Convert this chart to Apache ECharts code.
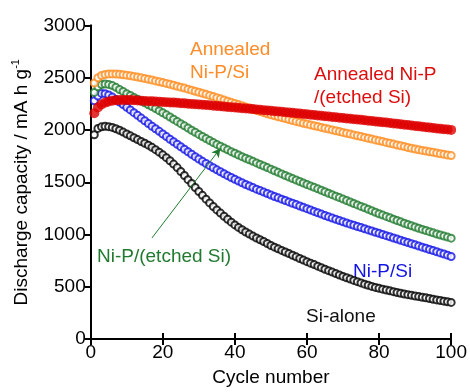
<!DOCTYPE html>
<html>
<head>
<meta charset="utf-8">
<script src="https://cdn.jsdelivr.net/npm/echarts@6/dist/echarts.min.js"></script>
<style>
  html, body { margin: 0; padding: 0; background: #fff; }
  #chart { width: 470px; height: 392px; }
</style>
</head>
<body>
<div id="chart"></div>
<script>
// discharge capacity (mA h g-1), cycles 1..100
var siAlone = [
  1955, 2015, 2030, 2035, 2032, 2025, 2012, 1998, 1980, 1962,
  1944, 1926, 1908, 1890, 1873, 1855, 1834, 1812, 1788, 1762,
  1735, 1706, 1674, 1640, 1603, 1565, 1525, 1488, 1450, 1412,
  1375, 1338, 1302, 1268, 1235, 1205, 1175, 1146, 1118, 1092,
  1068, 1045, 1024, 1004, 985, 967, 950, 933, 914, 895,
  879, 863, 848, 832, 817, 801, 786, 770, 755, 740,
  726, 712, 697, 683, 668, 654, 640, 626, 612, 599,
  586, 573, 561, 549, 537, 525, 514, 503, 494, 485,
  477, 469, 461, 453, 445, 438, 431, 424, 418, 412,
  406, 400, 394, 388, 380, 374, 368, 362, 356, 350
];
var niPSi = [
  2280, 2325, 2350, 2348, 2335, 2315, 2292, 2268, 2243, 2218,
  2192, 2166, 2140, 2114, 2088, 2062, 2036, 2012, 1987, 1962,
  1937, 1912, 1888, 1864, 1840, 1816, 1792, 1768, 1745, 1722,
  1700, 1679, 1659, 1639, 1619, 1600, 1581, 1563, 1545, 1528,
  1511, 1495, 1479, 1464, 1449, 1434, 1420, 1406, 1392, 1378,
  1364, 1351, 1338, 1325, 1312, 1299, 1286, 1273, 1260, 1247,
  1234, 1221, 1208, 1195, 1182, 1169, 1157, 1145, 1133, 1121,
  1110, 1099, 1088, 1077, 1066, 1055, 1044, 1033, 1022, 1011,
  1000, 989, 978, 967, 956, 945, 934, 923, 912, 901,
  890, 879, 868, 857, 846, 835, 824, 813, 802, 790
];
var niPEtched = [
  2360, 2415, 2435, 2440, 2436, 2425, 2408, 2388, 2368, 2348,
  2330, 2312, 2295, 2278, 2260, 2242, 2224, 2205, 2185, 2165,
  2145, 2124, 2103, 2082, 2061, 2040, 2019, 1998, 1978, 1958,
  1938, 1918, 1899, 1880, 1862, 1844, 1827, 1810, 1793, 1777,
  1761, 1745, 1730, 1715, 1700, 1685, 1670, 1655, 1640, 1625,
  1610, 1595, 1580, 1565, 1550, 1535, 1521, 1507, 1493, 1479,
  1465, 1451, 1437, 1423, 1409, 1395, 1381, 1367, 1353, 1339,
  1325, 1311, 1297, 1283, 1269, 1255, 1241, 1227, 1213, 1199,
  1186, 1173, 1160, 1147, 1134, 1121, 1108, 1096, 1084, 1072,
  1060, 1049, 1038, 1027, 1016, 1005, 995, 985, 975, 965
];
var annealedNiPSi = [
  2450, 2500, 2522, 2532, 2536, 2537, 2536, 2533, 2529, 2525,
  2519, 2513, 2506, 2499, 2492, 2485, 2478, 2470, 2462, 2454,
  2446, 2437, 2428, 2419, 2410, 2401, 2391, 2381, 2371, 2361,
  2351, 2341, 2331, 2320, 2309, 2298, 2287, 2276, 2265, 2254,
  2243, 2232, 2221, 2210, 2199, 2188, 2177, 2166, 2156, 2146,
  2136, 2127, 2118, 2109, 2100, 2091, 2082, 2073, 2065, 2057,
  2049, 2041, 2033, 2025, 2017, 2009, 2001, 1993, 1985, 1977,
  1969, 1961, 1953, 1945, 1937, 1929, 1921, 1913, 1905, 1897,
  1889, 1881, 1873, 1865, 1857, 1849, 1841, 1833, 1825, 1817,
  1811, 1805, 1799, 1792, 1786, 1780, 1773, 1767, 1761, 1755
];
var annealedNiPEtched = [
  2160, 2215, 2245, 2262, 2273, 2280, 2284, 2286, 2287, 2287,
  2286, 2284, 2282, 2280, 2278, 2276, 2274, 2272, 2270, 2268,
  2266, 2264, 2262, 2260, 2257, 2255, 2252, 2250, 2247, 2245,
  2242, 2239, 2236, 2233, 2230, 2227, 2224, 2221, 2218, 2215,
  2212, 2209, 2206, 2203, 2200, 2197, 2193, 2190, 2187, 2184,
  2180, 2177, 2174, 2170, 2167, 2164, 2160, 2157, 2153, 2150,
  2146, 2143, 2139, 2136, 2132, 2129, 2125, 2122, 2118, 2115,
  2111, 2108, 2104, 2100, 2097, 2093, 2089, 2086, 2082, 2078,
  2074, 2071, 2067, 2063, 2059, 2055, 2051, 2047, 2043, 2039,
  2035, 2031, 2027, 2023, 2019, 2015, 2011, 2007, 2004, 2001
];
// arrow pointing at the Ni-P/(etched Si) curve, [cycle, capacity]
var arrowFrom = [17, 967];
var arrowTo = [36, 1826];

var font = "'Liberation Sans', Arial, sans-serif";

function pairs(arr) {
  return arr.map(function (v, i) { return [i + 1, v]; });
}

function hollow(name, data, color) {
  return {
    name: name,
    type: 'scatter',
    data: pairs(data),
    symbol: 'emptyCircle',
    symbolSize: 7,
    itemStyle: { color: color, borderColor: color, borderWidth: 0.8 },
    silent: true
  };
}

var chart = echarts.init(document.getElementById('chart'));

var greenSeries = hollow('Ni-P/(etched Si)', niPEtched, '#217a30');
greenSeries.markLine = {
  silent: true,
  symbol: ['none', 'arrow'],
  symbolSize: [7, 9],
  label: { show: false },
  lineStyle: { color: '#217a30', width: 1, type: 'solid' },
  data: [[{ coord: arrowFrom }, { coord: arrowTo }]]
};

chart.setOption({
  animation: false,
  backgroundColor: '#fff',
  textStyle: { fontFamily: font },
  grid: { left: 90.7, right: 18.3, top: 25.5, bottom: 46.5 },
  xAxis: [
    {
      type: 'value', min: 0, max: 100, interval: 20,
      name: 'Cycle number', nameLocation: 'middle', nameGap: 29,
      nameTextStyle: { fontSize: 19, color: '#000', fontFamily: font },
      axisLine: { lineStyle: { color: '#000', width: 2 } },
      axisTick: { inside: true, length: 6, lineStyle: { color: '#000', width: 2 } },
      axisLabel: { fontSize: 19, color: '#000', margin: 4, fontFamily: font },
      splitLine: { show: false }
    },
    {
      type: 'value', position: 'top', min: 0, max: 100, interval: 20,
      axisLine: { lineStyle: { color: '#000', width: 2 } },
      axisTick: { inside: true, length: 6, lineStyle: { color: '#000', width: 2 } },
      axisLabel: { show: false },
      splitLine: { show: false }
    }
  ],
  yAxis: [
    {
      type: 'value', min: 0, max: 3000, interval: 500,
      name: 'Discharge capacity / mA h g{sup|-1}',
      nameLocation: 'middle', nameGap: 57, nameRotate: 90,
      nameTextStyle: {
        fontSize: 19, color: '#000', fontFamily: font, lineHeight: 22,
        rich: { sup: { fontSize: 11, color: '#000', fontFamily: font, verticalAlign: 'top', lineHeight: 12 } }
      },
      axisLine: { lineStyle: { color: '#000', width: 2 } },
      axisTick: { inside: false, length: 6, lineStyle: { color: '#000', width: 2 } },
      axisLabel: {
        fontSize: 19, color: '#000', margin: 5, fontFamily: font,
        formatter: function (v) { return String(v); }
      },
      splitLine: { show: false }
    },
    {
      type: 'value', position: 'right', min: 0, max: 3000, interval: 500,
      axisLine: { lineStyle: { color: '#000', width: 2 } },
      axisTick: { inside: true, length: 6, lineStyle: { color: '#000', width: 2 } },
      axisLabel: { show: false },
      splitLine: { show: false }
    }
  ],
  series: [
    hollow('Si-alone', siAlone, '#000000'),
    hollow('Ni-P/Si', niPSi, '#1414e6'),
    greenSeries,
    hollow('Annealed Ni-P/Si', annealedNiPSi, '#ff8c1e'),
    {
      name: 'Annealed Ni-P/(etched Si)',
      type: 'scatter',
      data: pairs(annealedNiPEtched),
      symbol: 'circle',
      symbolSize: 10,
      itemStyle: { color: '#dd0000' },
      silent: true
    }
  ],
  graphic: [
    { type: 'text', x: 190, y: 38.8, style: { text: 'Annealed\nNi-P/Si', fill: '#ff8c28', fontSize: 19, fontFamily: font, lineHeight: 22.5, verticalAlign: 'top' } },
    { type: 'text', x: 314, y: 63.8, style: { text: 'Annealed Ni-P\n/(etched Si)', fill: '#dd0d0d', fontSize: 19, fontFamily: font, lineHeight: 22.5, verticalAlign: 'top' } },
    { type: 'text', x: 97, y: 256.7, style: { text: 'Ni-P/(etched Si)', fill: '#217a30', fontSize: 19, fontFamily: font, verticalAlign: 'middle' } },
    { type: 'text', x: 353, y: 271.7, style: { text: 'Ni-P/Si', fill: '#1414e6', fontSize: 19, fontFamily: font, verticalAlign: 'middle' } },
    { type: 'text', x: 306, y: 317, style: { text: 'Si-alone', fill: '#111', fontSize: 19, fontFamily: font, verticalAlign: 'middle' } }
  ]
});
</script>
</body>
</html>
